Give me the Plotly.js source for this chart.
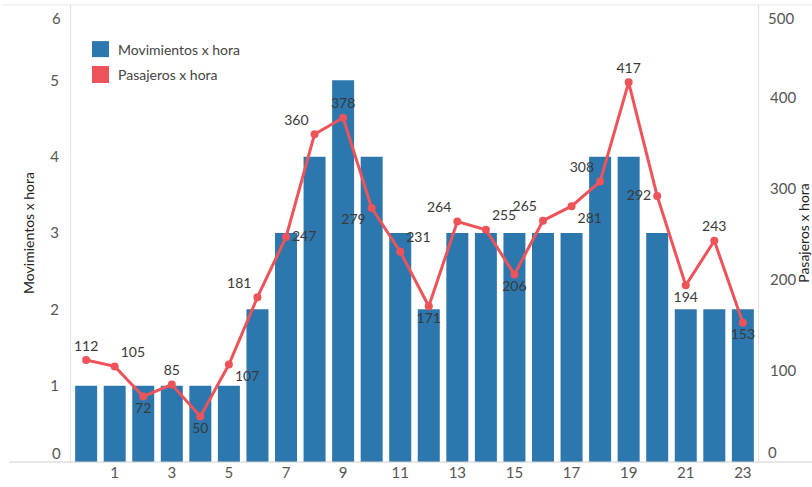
<!DOCTYPE html>
<html>
<head>
<meta charset="utf-8">
<script src="https://cdn.plot.ly/plotly-3.0.1.min.js"></script>
<style>html,body{margin:0;padding:0;background:#fff}#chart{width:812px;height:487px}</style>
</head>
<body>
<div id="chart"></div>
<script>
// Data
const horas = [0,1,2,3,4,5,6,7,8,9,10,11,12,13,14,15,16,17,18,19,20,21,22,23];
const movimientos = [1,1,1,1,1,1,2,3,4,5,4,3,2,3,3,3,3,3,4,4,3,2,2,2];
const pasajeros = [112,105,72,85,50,107,181,247,360,378,279,231,171,264,255,206,265,281,308,417,292,194,243,153];
const xTicks = [1,3,5,7,9,11,13,15,17,19,21,23];
const leftTicks = [1,2,3,4,5];
const rightTicks = [100,200,300,400];

const labelPos = ['top center','top right','bottom center','top center','bottom center','bottom right',
  'top left','middle right','top left','top center','bottom left','top right',
  'bottom center','top left','top right','bottom center','top left','bottom right',
  'top left','top center','middle left','bottom center','top center','bottom center'];

const BLUE = '#2c77ad';
const RED = '#ef535a';
const FONT = 'Lato, "Noto Sans", sans-serif';

const traces = [
  {type:'bar', x:horas, y:movimientos, name:'Movimientos x hora', marker:{color:BLUE}, width:0.77, yaxis:'y', hoverinfo:'skip'},
  {type:'scatter', mode:'lines+markers+text', x:horas, y:pasajeros, name:'Pasajeros x hora', yaxis:'y2',
   line:{color:RED, width:3}, marker:{color:RED, size:8},
   text:pasajeros.map(String), textposition:labelPos, textfont:{family:FONT, size:14, color:'#3a3a3a'},
   cliponaxis:false}
];

const annotations = [
  {xref:'paper', yref:'y', x:0, y:0, text:'0', showarrow:false, xanchor:'right', yanchor:'middle', xshift:-8, yshift:9, font:{family:FONT,size:15,color:'#555'}},
  {xref:'paper', yref:'y', x:0, y:6, text:'6', showarrow:false, xanchor:'right', yanchor:'middle', xshift:-8, yshift:-14, font:{family:FONT,size:15,color:'#555'}},
  {xref:'paper', yref:'y2', x:1, y:0, text:'0', showarrow:false, xanchor:'left', yanchor:'middle', xshift:8, yshift:10, font:{family:FONT,size:15,color:'#555'}},
  {xref:'paper', yref:'y2', x:1, y:500, text:'500', showarrow:false, xanchor:'left', yanchor:'middle', xshift:8, yshift:-11, font:{family:FONT,size:15,color:'#555'}},
  {xref:'paper', yref:'paper', x:0.0655, y:0.9017, text:'Movimientos x hora', showarrow:false, xanchor:'left', yanchor:'middle', font:{family:FONT,size:14,color:'#444'}},
  {xref:'paper', yref:'paper', x:0.0655, y:0.845, text:'Pasajeros x hora', showarrow:false, xanchor:'left', yanchor:'middle', font:{family:FONT,size:14,color:'#444'}}
];

const shapes = [
  {type:'rect', xref:'paper', yref:'paper', x0:0.0306, x1:0.0553, y0:0.884, y1:0.919, fillcolor:BLUE, line:{width:0}},
  {type:'rect', xref:'paper', yref:'paper', x0:0.0306, x1:0.0553, y0:0.8275, y1:0.8646, fillcolor:RED, line:{width:0}},
  {type:'line', xref:'paper', yref:'paper', x0:-0.1, x1:1.1, y0:0.998, y1:0.998, line:{color:'#e8e8e8', width:1}},
  {type:'line', xref:'paper', yref:'paper', x0:-0.09, x1:1.08, y0:0, y1:0, line:{color:'#cfcfcf', width:1}}
];

const layout = {
  width:812, height:487,
  margin:{l:71, r:54, t:4, b:25, pad:0},
  paper_bgcolor:'#fff', plot_bgcolor:'#fff',
  showlegend:false,
  font:{family:FONT, size:15, color:'#555'},
  xaxis:{range:[-0.53,23.53], tickvals:xTicks, ticktext:xTicks.map(String), showgrid:false, zeroline:false, showline:false, ticks:'', tickfont:{family:FONT,size:15,color:'#555'}, fixedrange:true},
  yaxis:{range:[0,6], tickvals:leftTicks, showgrid:false, zeroline:false, showline:true, linecolor:'#e3e3e3', linewidth:1, ticks:'', ticklabelstandoff:8,
    title:{text:'Movimientos x hora', font:{family:FONT,size:14,color:'#222'}, standoff:12}, tickfont:{family:FONT,size:15,color:'#555'}},
  yaxis2:{range:[0,503], overlaying:'y', side:'right', tickvals:rightTicks, showgrid:false, zeroline:false, showline:true, linecolor:'#e3e3e3', linewidth:1, ticks:'', ticklabelstandoff:8,
    title:{text:'Pasajeros x hora', font:{family:FONT,size:14,color:'#222'}, standoff:22}, tickfont:{family:FONT,size:15,color:'#555'}},
  annotations:annotations,
  shapes:shapes
};

Plotly.newPlot('chart', traces, layout, {displayModeBar:false, staticPlot:true});
</script>
</body>
</html>
